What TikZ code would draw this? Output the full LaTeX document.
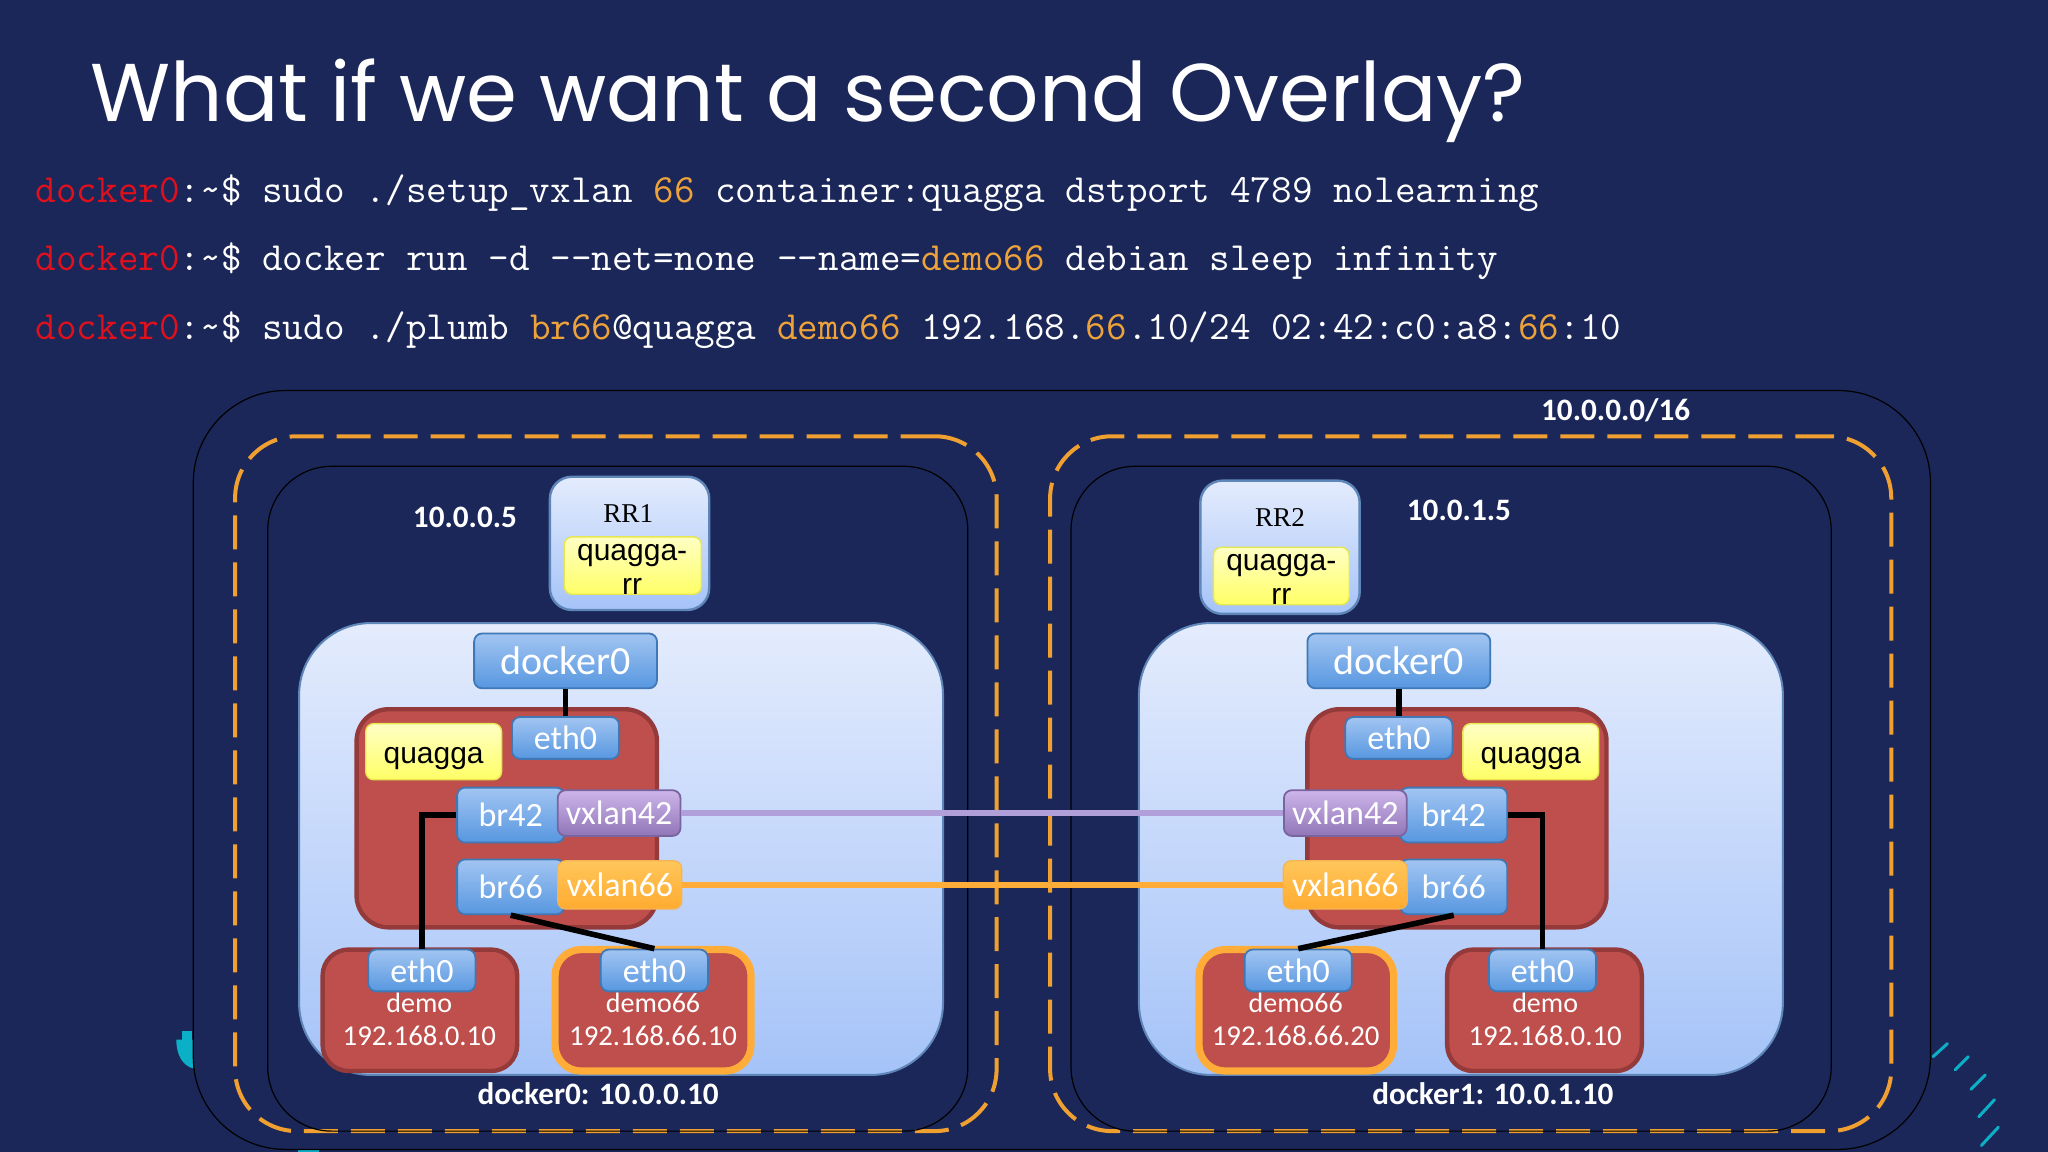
\documentclass[tikz,border=0pt]{standalone}
\usepackage{fontspec}
\setmainfont{Carlito}
\newfontfamily\titlefont{Poppins}
\newfontfamily\arialfont{Liberation Sans}
\newfontfamily\timesfont{Liberation Serif}

\definecolor{slidebg}{HTML}{1B2759}
\definecolor{dashorange}{HTML}{F0A030}
\definecolor{cmdred}{HTML}{E0101C}
\definecolor{cmdorange}{HTML}{EDA23A}
\definecolor{tealmark}{HTML}{0CB0C6}
\definecolor{lightboxtop}{HTML}{E4ECFD}
\definecolor{lightboxbot}{HTML}{A5C3F8}
\definecolor{lightedge}{HTML}{5F86B8}
\definecolor{nictop}{HTML}{A2C5F2}
\definecolor{nicbot}{HTML}{5797E0}
\definecolor{nicedge}{HTML}{3F78B4}
\definecolor{purpletop}{HTML}{CDB6EA}
\definecolor{purplebot}{HTML}{9175B8}
\definecolor{purpleedge}{HTML}{7A64A0}
\definecolor{orangetop}{HTML}{FFC65A}
\definecolor{orangebot}{HTML}{FFAB30}
\definecolor{orangeedge}{HTML}{F5B454}
\definecolor{yellowtop}{HTML}{FFFFC4}
\definecolor{yellowbot}{HTML}{FFFF66}
\definecolor{yellowedge}{HTML}{E6E650}
\definecolor{redfill}{HTML}{BE4F4C}
\definecolor{rededge}{HTML}{943A3A}
\definecolor{linepurple}{HTML}{B09FD8}
\definecolor{lineorange}{HTML}{FFAC38}
\newcommand{\prompt}{\textcolor{cmdred}{docker0}:\textasciitilde\$ }
\newcommand{\hl}[1]{\textcolor{cmdorange}{#1}}

\tikzset{
  size/.style 2 args={minimum width=#1*0.6531pt, minimum height=#2*0.6531pt, inner sep=0pt},
  host/.style={draw=black, line width=0.6pt, rounded corners=32pt},
  overlay/.style={draw=dashorange, line width=2pt, rounded corners=31pt, dash pattern=on 17pt off 6.5pt},
  dockerbox/.style={draw=lightedge, line width=1pt, rounded corners=36pt, top color=lightboxtop, bottom color=lightboxbot},
  rrbox/.style={draw=lightedge, line width=1.2pt, rounded corners=11pt, top color=lightboxtop, bottom color=lightboxbot},
  nic/.style={draw=nicedge, line width=0.9pt, rounded corners=4pt, text=white, top color=nictop, bottom color=nicbot,
    font=\fontsize{17}{20}\selectfont},
  purplenic/.style={nic, draw=purpleedge, top color=purpletop, bottom color=purplebot},
  orangenic/.style={nic, draw=orangeedge, line width=0.6pt, top color=orangetop, bottom color=orangebot},
  yellowbox/.style={draw=yellowedge, line width=0.7pt, rounded corners=4pt, text=black, top color=yellowtop, bottom color=yellowbot,
    font=\arialfont\fontsize{15}{17}\selectfont, text height=11.4pt, text depth=0pt},
  yellowtext/.style={text=black, inner sep=0pt, align=center, font=\arialfont\fontsize{15}{17}\selectfont},
  rrtext/.style={text=black, font=\timesfont\fontsize{13.6}{16}\selectfont},
  redbox/.style={draw=rededge, line width=2.2pt, fill=redfill},
  demo66box/.style={draw=lineorange, line width=3.6pt, fill=redfill, rounded corners=13pt},
  wire/.style={draw=black, line width=2.8pt},
  addr/.style={text=white, font=\bfseries\fontsize{15.6}{18}\selectfont},
  demotext/.style={text=white, font=\fontsize{#1}{18}\selectfont},
  cmd/.style={anchor=base west, text=white, inner sep=0pt, font=\ttfamily\fontsize{20}{24}\selectfont},
  tick/.style={draw=tealmark, line width=1.5pt, line cap=round},
}

\begin{document}
\begin{tikzpicture}[x=0.6531pt, y=-0.6531pt]

  % Slide background
  \fill[slidebg] (0,0) rectangle (1568,882);

  % Title and commands
  \node[anchor=base west, text=white, inner sep=0pt, font=\titlefont\fontsize{41}{48}\selectfont] (title) at (69,93) {What if we want a second Overlay?};
  \node[cmd] (cmd1) at (27,155) {\prompt sudo ./setup\_vxlan \hl{66} container:quagga dstport 4789 nolearning};
  \node[cmd] (cmd2) at (27,207) {\prompt docker run -d {-}{-}net=none {-}{-}name=\hl{demo66} debian sleep infinity};
  \node[cmd] (cmd3) at (27,260) {\prompt sudo ./plumb \hl{br66}@quagga \hl{demo66} 192.168.\hl{66}.10/24 02:42:c0:a8:\hl{66}:10};

  % Slide decoration behind the network
  \fill[tealmark] (139,789) rectangle (147,796);
  \fill[tealmark] (135,796) -- (148,796) -- (148,818) .. controls (140,816) and (135,808) .. cycle;
  \fill[tealmark] (228,880) rectangle (244,882);
  \draw[tick] (1480,809) -- (1491,799);
  \draw[tick] (1497,819) -- (1507,809);
  \draw[tick] (1509,834) -- (1520,823);
  \draw[tick] (1515,855) -- (1527,842);
  \draw[tick] (1517,877) -- (1530,863);

  % Network and hosts
  \node[host, fill=slidebg, rounded corners=46pt, size={1330}{581}] (net) at (813,589.5) {};
  \node[overlay, size={583}{532}] (dashL) at (471.5,600) {};
  \node[overlay, size={644}{532}] (dashR) at (1126,600) {};
  \node[host, size={536}{509}] (hostL) at (473,611.5) {};
  \node[host, size={582}{509}] (hostR) at (1111,611.5) {};
  \node[dockerbox, size={493}{346}] (dockL) at (475.5,650) {};
  \node[dockerbox, size={493}{346}] (dockR) at (1118.5,650) {};

  % Route reflectors
  \node[rrbox, size={122}{102}] (rr1) at (482,416) {};
  \node[rrbox, size={122}{102}] (rr2) at (980,419) {};
  \node[rrtext] (rr1t) at (481,393) {RR1};
  \node[rrtext] (rr2t) at (980,396) {RR2};
  \node[yellowbox, size={105}{44}] (qrr1) at (484.5,433) {};
  \node[yellowbox, size={104}{44}] (qrr2) at (981,441) {};
  \node[yellowtext] (qrr1t) at (484,436) {quagga-\\rr};
  \node[yellowtext] (qrr2t) at (981,443.5) {quagga-\\rr};

  % Addresses
  \node[addr] (ip1) at (356,396) {10.0.0.5};
  \node[addr] (ip2) at (1117,391) {10.0.1.5};
  \node[addr] (ipnet) at (1237,314) {10.0.0.0/16};
  \node[addr] (ipd0) at (458,837) {docker0: 10.0.0.10};
  \node[addr] (ipd1) at (1143,837) {docker1: 10.0.1.10};

  % Containers
  \node[redbox, rounded corners=16pt, size={230}{167}] (quagL) at (388,626.5) {};
  \node[redbox, rounded corners=16pt, size={229}{167}] (quagR) at (1115.5,626.5) {};
  \node[redbox, rounded corners=13pt, size={149}{93}] (demoL) at (321.5,773.5) {};
  \node[demo66box, size={150}{93}] (demo66L) at (500,773.5) {};
  \node[demo66box, size={149}{93}] (demo66R) at (992.5,773.5) {};
  \node[redbox, rounded corners=13pt, size={149}{93}] (demoR) at (1182.5,773.5) {};

  % Left host interfaces
  \node[nic, size={140}{42}, font=\fontsize{20}{24}\selectfont] (dk0L) at (433,506) {docker0};
  \node[nic, size={82}{32}] (ethTL) at (433,565) {eth0};
  \node[yellowbox, size={104}{43}] (qL) at (332,575.5) {quagga};
  \node[nic, size={82}{42}] (br42L) at (391,624) {br42};
  \node[nic, size={82}{42}] (br66L) at (391,679) {br66};
  \node[purplenic, size={94}{35}] (vx42L) at (474,622.5) {vxlan42};
  \node[orangenic, size={95}{37}] (vx66L) at (474.5,677.5) {vxlan66};
  \node[nic, size={82}{32}] (ethDL) at (323,743) {eth0};
  \node[nic, size={82}{32}] (ethEL) at (501,743) {eth0};

  % Right host interfaces
  \node[nic, size={140}{42}, font=\fontsize{20}{24}\selectfont] (dk0R) at (1071,506) {docker0};
  \node[nic, size={82}{32}] (ethTR) at (1071,565) {eth0};
  \node[yellowbox, size={104}{43}] (qR) at (1172,575.5) {quagga};
  \node[nic, size={82}{42}] (br42R) at (1113,624) {br42};
  \node[nic, size={82}{42}] (br66R) at (1113,679) {br66};
  \node[purplenic, size={94}{35}] (vx42R) at (1030,622.5) {vxlan42};
  \node[orangenic, size={95}{37}] (vx66R) at (1030,677.5) {vxlan66};
  \node[nic, size={82}{32}] (ethER) at (994,743) {eth0};
  \node[nic, size={82}{32}] (ethDR) at (1181,743) {eth0};

  % Container labels
  \node[demotext=14] (dLa) at (321,768) {demo};
  \node[demotext=14.4] (dLb) at (321,793) {192.168.0.10};
  \node[demotext=14] (eLa) at (500,768) {demo66};
  \node[demotext=14.4] (eLb) at (500,793) {192.168.66.10};
  \node[demotext=14] (eRa) at (992,768) {demo66};
  \node[demotext=14.4] (eRb) at (992,793) {192.168.66.20};
  \node[demotext=14] (dRa) at (1183,768) {demo};
  \node[demotext=14.4] (dRb) at (1183,793) {192.168.0.10};

  % Wires
  \draw[wire] (dk0L.south) -- (ethTL.north);
  \draw[wire] (dk0R.south) -- (ethTR.north);
  \draw[wire] (br42L.west) -| (ethDL.north);
  \draw[wire] (br42R.east) -| (ethDR.north);
  \draw[wire] (br66L.south) -- (ethEL.north);
  \draw[wire] (br66R.south) -- (ethER.north);

  % Overlays
  \draw[linepurple, line width=2.8pt] (vx42L.east) -- (vx42R.west);
  \draw[lineorange, line width=2.8pt] (vx66L.east) -- (vx66R.west);

\end{tikzpicture}
\end{document}
